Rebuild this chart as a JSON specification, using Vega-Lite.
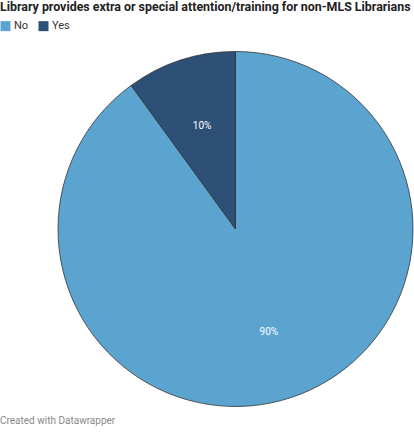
{
  "$schema": "https://vega.github.io/schema/vega-lite/v6.json",
  "autosize": "none",
  "width": 471,
  "height": 354,
  "padding": {"left": 0, "top": 52, "right": -57, "bottom": 26},
  "background": "white",
  "data": {
    "values": [
      {"answer": "No", "share": 90, "label": "90%"},
      {"answer": "Yes", "share": 10, "label": "10%"}
    ]
  },
  "title": {
    "text": "Created with Datawrapper",
    "orient": "bottom",
    "anchor": "start",
    "frame": "group",
    "offset": 8,
    "font": "Roboto",
    "fontSize": 10,
    "fontWeight": "normal",
    "color": "#888888"
  },
  "encoding": {
    "theta": {"field": "share", "type": "quantitative", "stack": true},
    "order": {"field": "answer", "sort": "ascending"}
  },
  "layer": [
    {
      "mark": {"type": "arc", "outerRadius": 177.5, "stroke": "#333333", "strokeWidth": 0.8},
      "encoding": {
        "color": {
          "field": "answer",
          "type": "nominal",
          "scale": {"domain": ["No", "Yes"], "range": ["#5ca4d0", "#2e5077"]},
          "legend": {
            "title": "Library provides extra or special attention/training for non-MLS Librarians",
            "orient": "none",
            "legendX": 0,
            "legendY": -51,
            "direction": "horizontal",
            "titleFont": "Roboto",
            "titleFontSize": 12.4,
            "titleFontWeight": "bold",
            "titleColor": "#222222",
            "titleLimit": 500,
            "titlePadding": 7,
            "symbolType": "square",
            "symbolSize": 100,
            "symbolStrokeWidth": 0,
            "symbolOpacity": 1,
            "labelFont": "Roboto",
            "labelFontSize": 11,
            "labelColor": "#333333",
            "labelOffset": 3,
            "columnPadding": 9
          }
        }
      }
    },
    {
      "mark": {"type": "text", "radius": 108, "font": "Roboto", "fontSize": 10, "fill": "white"},
      "encoding": {
        "text": {"field": "label", "type": "nominal"}
      }
    }
  ],
  "config": {"view": {"stroke": null}}
}
